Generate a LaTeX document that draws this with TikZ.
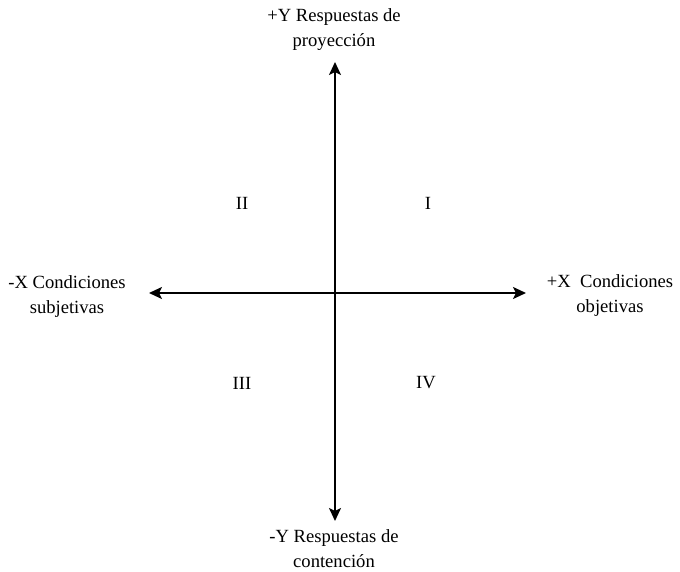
\documentclass[tikz,border=0pt]{standalone}
\usepackage{fontspec}
\setmainfont{Liberation Serif}
\usetikzlibrary{arrows.meta}
\tikzset{
  axis/.style={line width=2pt,{Stealth[length=13pt,width=12pt,inset=3pt]}-{Stealth[length=13pt,width=12pt,inset=3pt]}},
  lbl/.style={align=center,inner sep=0pt,font=\fontsize{18.6}{25}\selectfont},
  quad/.style={inner sep=0pt,font=\fontsize{18.6}{22}\selectfont}
}
\begin{document}
\begin{tikzpicture}[x=1pt,y=-1pt]
\useasboundingbox (0,0) rectangle (680,572);
\coordinate (top) at (335,62);
\coordinate (bot) at (335,521);
\coordinate (lft) at (149,293);
\coordinate (rgt) at (526,293);
\draw[axis] (bot) -- (top);
\draw[axis] (lft) -- (rgt);
\node[lbl] (ty) at (334,30) {+Y Respuestas de\\proyección};
\node[lbl] (by) at (334,549) {-Y Respuestas de\\contención};
\node[lbl] (lx) at (67,297) {-X Condiciones\\subjetivas};
\node[lbl] (rx) at (610,296) {+X\ \ Condiciones\\objetivas};
\node[quad] (q1) at (428,203) {I};
\node[quad] (q2) at (242,203) {II};
\node[quad] (q3) at (242,383) {III};
\node[quad] (q4) at (426,383) {IV};
\end{tikzpicture}
\end{document}
